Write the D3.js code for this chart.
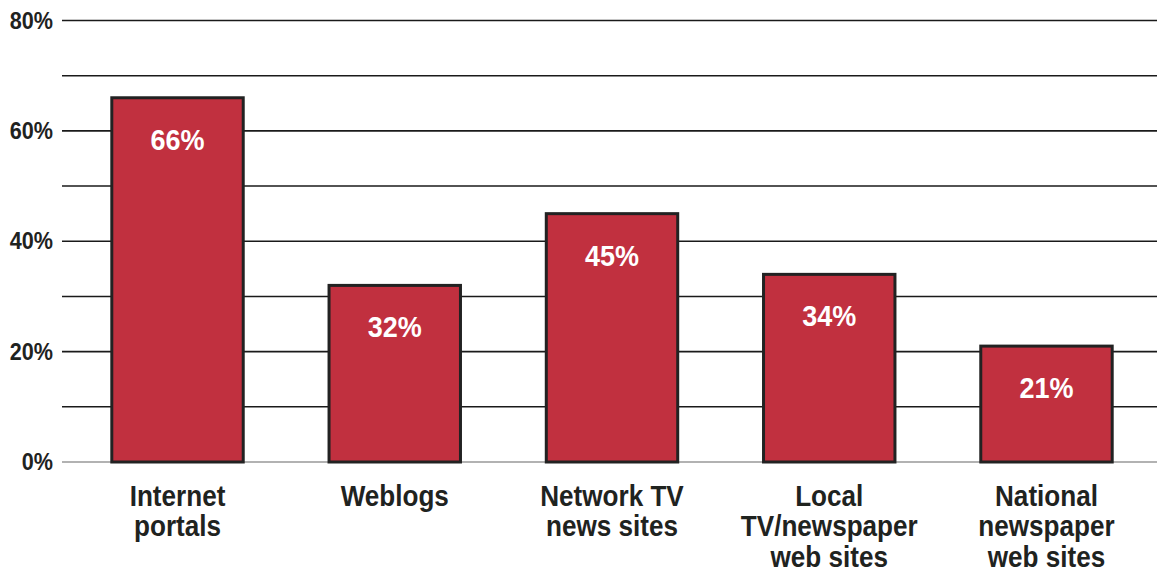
<!DOCTYPE html>
<html>
<head>
<meta charset="utf-8">
<script src="https://cdn.jsdelivr.net/npm/d3@7"></script>
<style>
  body { margin: 0; background: #fff; }
  text { font-family: "Liberation Sans", Arial, sans-serif; font-weight: bold; }
</style>
</head>
<body>
<svg id="chart" width="1157" height="573"></svg>
<script>
var categories = ["Internet portals", "Weblogs", "Network TV news sites", "Local TV/newspaper web sites", "National newspaper web sites"];
var labelLines = [["Internet", "portals"], ["Weblogs"], ["Network TV", "news sites"], ["Local", "TV/newspaper", "web sites"], ["National", "newspaper", "web sites"]];
var values = [66, 32, 45, 34, 21];
var yTicks = [0, 20, 40, 60, 80];
var gridTicks = [0, 10, 20, 30, 40, 50, 60, 70, 80];

var svg = d3.select("#chart"),
    margin = { top: 20.5, right: 0, bottom: 111, left: 62 },
    width = +svg.attr("width") - margin.left - margin.right,
    height = +svg.attr("height") - margin.top - margin.bottom,
    squeeze = 0.9; // condensed look

var g = svg.append("g")
    .attr("transform", "translate(" + margin.left + "," + margin.top + ")");

var x = d3.scaleBand()
    .domain(categories)
    .range([7, 7 + 217.2 * 5])
    .paddingInner(0.395)
    .paddingOuter(0.197);

var y = d3.scaleLinear().domain([0, 80]).range([height, 0]);

// grid lines
g.selectAll(".grid")
    .data(gridTicks)
    .enter().append("line")
    .attr("class", "grid")
    .attr("x1", 0)
    .attr("x2", width)
    .attr("y1", function(d) { return y(d); })
    .attr("y2", function(d) { return y(d); })
    .attr("stroke", function(d) { return d === 0 ? "#999" : "#1a1a1a"; })
    .attr("stroke-width", 1.6);

// y labels
var yAxis = d3.axisLeft(y)
    .tickValues(yTicks)
    .tickSize(0)
    .tickPadding(0)
    .tickFormat(function(d) { return d + "%"; });

g.append("g")
    .call(yAxis)
    .call(function(a) { a.select(".domain").remove(); })
    .selectAll("text")
    .attr("font-family", null)
    .attr("font-size", 24)
    .attr("fill", "#1f231f")
    .attr("x", -9 / squeeze)
    .attr("transform", "scale(" + squeeze + ",1)");

// bars
g.selectAll(".bar")
    .data(values)
    .enter().append("rect")
    .attr("class", "bar")
    .attr("x", function(d, i) { return x(categories[i]); })
    .attr("width", x.bandwidth())
    .attr("y", function(d) { return y(d); })
    .attr("height", function(d) { return y(0) - y(d); })
    .attr("fill", "#c1303f")
    .attr("stroke", "#222")
    .attr("stroke-width", 3);

// value labels
g.selectAll(".val")
    .data(values)
    .enter().append("text")
    .attr("class", "val")
    .attr("transform", function(d, i) {
        return "translate(" + (x(categories[i]) + x.bandwidth() / 2) + "," + (y(d) + 52) + ") scale(" + squeeze + ",1)";
    })
    .attr("text-anchor", "middle")
    .attr("font-size", 30)
    .attr("fill", "#fff")
    .text(function(d) { return d + "%"; });

// category labels
var cat = g.selectAll(".cat")
    .data(labelLines)
    .enter().append("text")
    .attr("class", "cat")
    .attr("text-anchor", "middle")
    .attr("font-size", 29)
    .attr("fill", "#1f231f")
    .attr("transform", function(d, i) {
        return "translate(" + (x(categories[i]) + x.bandwidth() / 2) + "," + (height + 44) + ") scale(" + squeeze + ",1)";
    });

cat.selectAll("tspan")
    .data(function(d) { return d; })
    .enter().append("tspan")
    .attr("x", 0)
    .attr("y", function(d, i) { return i * 30.5; })
    .text(function(d) { return d; });
</script>
</body>
</html>
